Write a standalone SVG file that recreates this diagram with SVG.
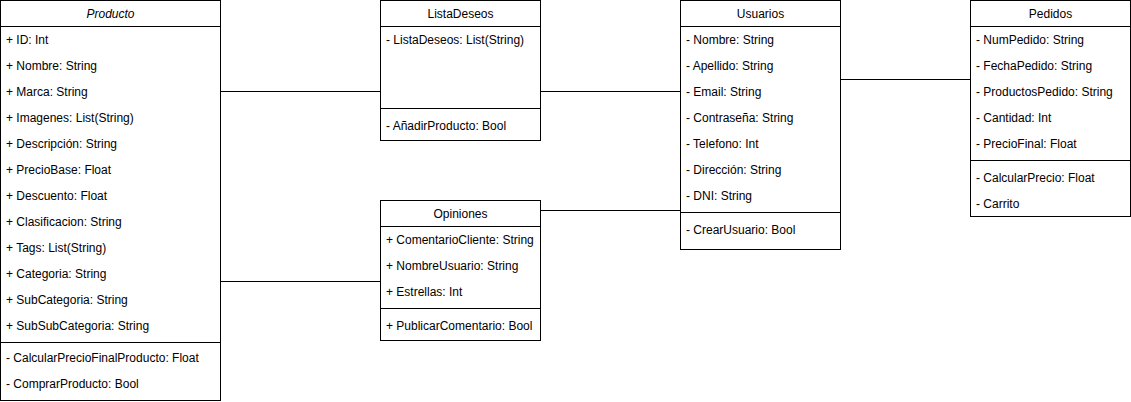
<svg xmlns="http://www.w3.org/2000/svg" width="1131" height="402" viewBox="0 0 1131 402">
<style>
rect.box{fill:#fff;stroke:#000;stroke-width:1}
line.sep{stroke:#000;stroke-width:1}
.conn path{fill:none;stroke:#000;stroke-width:1}
text{font-family:"Liberation Sans",Arial,sans-serif;font-size:12px;fill:#000}
text.t{text-anchor:middle}
text.i{font-style:italic}
</style>
<rect width="1131" height="402" fill="#fff"/>
<g class="conn" id="connectors">
<path d="M220.5 91.5H380.5"/>
<path d="M540.5 91.5H680.5"/>
<path d="M840.5 79.5H970.5"/>
<path d="M220.5 281.5H380.5"/>
<path d="M540.5 210.5H680.5"/>
</g>
<g id="Producto">
<rect class="box" x="0.5" y="0.5" width="220" height="400"/>
<line class="sep" x1="0.5" y1="26.5" x2="220.5" y2="26.5"/>
<text class="t i" x="110.5" y="18">Producto</text>
<text x="6" y="44">+ ID: Int</text>
<text x="6" y="70">+ Nombre: String</text>
<text x="6" y="96">+ Marca: String</text>
<text x="6" y="122">+ Imagenes: List(String)</text>
<text x="6" y="148">+ Descripción: String</text>
<text x="6" y="174">+ PrecioBase: Float</text>
<text x="6" y="200">+ Descuento: Float</text>
<text x="6" y="226">+ Clasificacion: String</text>
<text x="6" y="252">+ Tags: List(String)</text>
<text x="6" y="278">+ Categoria: String</text>
<text x="6" y="304">+ SubCategoria: String</text>
<text x="6" y="330">+ SubSubCategoria: String</text>
<line class="sep" x1="0.5" y1="342.5" x2="220.5" y2="342.5"/>
<text x="6" y="362">- CalcularPrecioFinalProducto: Float</text>
<text x="6" y="388">- ComprarProducto: Bool</text>
</g>
<g id="ListaDeseos">
<rect class="box" x="380.5" y="0.5" width="160" height="140"/>
<line class="sep" x1="380.5" y1="26.5" x2="540.5" y2="26.5"/>
<text class="t" x="460.5" y="18">ListaDeseos</text>
<text x="386" y="44">- ListaDeseos: List(String)</text>
<line class="sep" x1="380.5" y1="108.5" x2="540.5" y2="108.5"/>
<text x="386" y="130">- AñadirProducto: Bool</text>
</g>
<g id="Opiniones">
<rect class="box" x="380.5" y="200.5" width="160" height="140"/>
<line class="sep" x1="380.5" y1="226.5" x2="540.5" y2="226.5"/>
<text class="t" x="460.5" y="218">Opiniones</text>
<text x="386" y="244">+ ComentarioCliente: String</text>
<text x="386" y="270">+ NombreUsuario: String</text>
<text x="386" y="296">+ Estrellas: Int</text>
<line class="sep" x1="380.5" y1="308.5" x2="540.5" y2="308.5"/>
<text x="386" y="330">+ PublicarComentario: Bool</text>
</g>
<g id="Usuarios">
<rect class="box" x="680.5" y="0.5" width="160" height="249"/>
<line class="sep" x1="680.5" y1="26.5" x2="840.5" y2="26.5"/>
<text class="t" x="760.5" y="18">Usuarios</text>
<text x="686" y="44">- Nombre: String</text>
<text x="686" y="70">- Apellido: String</text>
<text x="686" y="96">- Email: String</text>
<text x="686" y="122">- Contraseña: String</text>
<text x="686" y="148">- Telefono: Int</text>
<text x="686" y="174">- Dirección: String</text>
<text x="686" y="200">- DNI: String</text>
<line class="sep" x1="680.5" y1="212.5" x2="840.5" y2="212.5"/>
<text x="686" y="234">- CrearUsuario: Bool</text>
</g>
<g id="Pedidos">
<rect class="box" x="970.5" y="0.5" width="160" height="216"/>
<line class="sep" x1="970.5" y1="26.5" x2="1130.5" y2="26.5"/>
<text class="t" x="1050.5" y="18">Pedidos</text>
<text x="976" y="44">- NumPedido: String</text>
<text x="976" y="70">- FechaPedido: String</text>
<text x="976" y="96">- ProductosPedido: String</text>
<text x="976" y="122">- Cantidad: Int</text>
<text x="976" y="148">- PrecioFinal: Float</text>
<line class="sep" x1="970.5" y1="160.5" x2="1130.5" y2="160.5"/>
<text x="976" y="182">- CalcularPrecio: Float</text>
<text x="976" y="208">- Carrito</text>
</g>
</svg>
